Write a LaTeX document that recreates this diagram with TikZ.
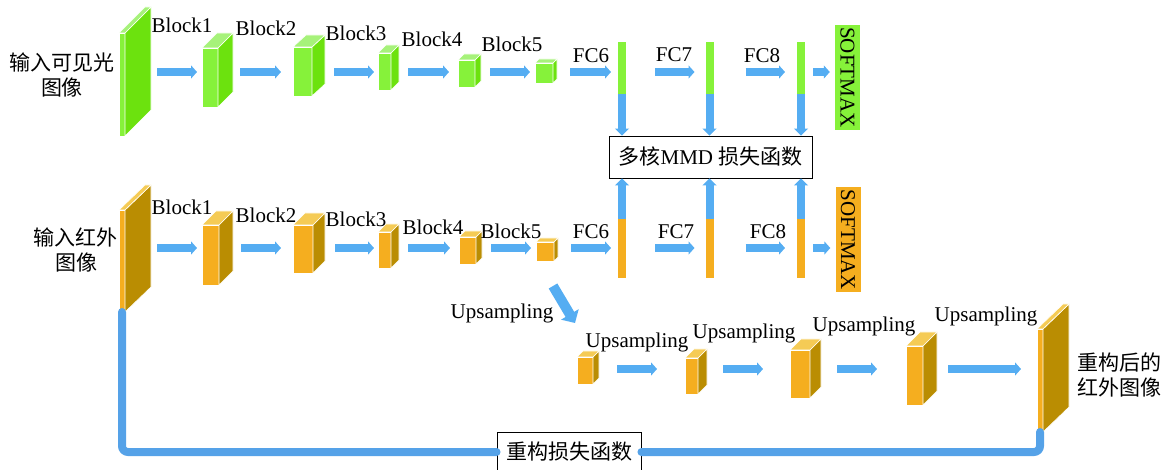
\documentclass[tikz,border=0pt]{standalone}
\usepackage{graphicx}
\usepackage{fontspec}
\setmainfont{Liberation Serif}
\newfontfamily\cjk{Noto Sans CJK SC}
\usetikzlibrary{arrows.meta, calc, positioning}
\definecolor{gfront}{HTML}{86F23A}
\definecolor{gside}{HTML}{6CE20E}
\definecolor{gtop}{HTML}{A6F27A}
\definecolor{ofront}{HTML}{F5AE1F}
\definecolor{oside}{HTML}{BA8D02}
\definecolor{otop}{HTML}{F5CB55}
\definecolor{arrowblue}{HTML}{55ADF2}
\definecolor{lineblue}{HTML}{55A2E8}
% name, colour, x, y, width, height, depth x, depth y
\newcommand{\cuboid}[8]{%
 \node[draw=white, line width=0.6pt, fill=#2front, inner sep=0pt, outer sep=0pt,
  minimum width=#5pt, minimum height=#6pt, anchor=north west] (#1) at (#3,#4) {};
 \draw[white, line width=0.6pt, fill=#2side] (#1.north east) -- ++(#7,-#8) -- ++(0,#6) -- (#1.south east) -- cycle;
 \draw[white, line width=0.6pt, fill=#2top] (#1.north west) -- ++(#7,-#8) -- ++(#5,0) -- (#1.north east) -- cycle;
}

\begin{document}
\begin{tikzpicture}[x=1pt, y=-1pt,
 lbl/.style={font=\fontsize{21}{25}\selectfont, inner sep=0pt},
 cn/.style={font=\cjk\fontsize{21}{25}\selectfont, align=center, inner sep=0pt},
 bar/.style={inner sep=0pt, outer sep=0pt, minimum width=8pt},
 smbox/.style={inner sep=0pt, minimum width=25pt, minimum height=105pt, font=\fontsize{21}{25}\selectfont},
 lossbox/.style={draw, line width=0.9pt, fill=white, inner sep=0pt, font=\fontsize{21}{25}\selectfont},
 flow/.style={draw=arrowblue, line width=8pt, -{Triangle[width=13pt,length=6pt]}},
 vflow/.style={draw=arrowblue, line width=8pt, -{Triangle[width=14pt,length=7pt]}},
 loss/.style={draw=lineblue, line width=8pt, line cap=round, rounded corners=6pt}]
 \useasboundingbox (0,0) rectangle (1168,470);

 \coordinate (vrow) at (0,72);
 \coordinate (irow) at (0,248);
 \coordinate (urow) at (0,369);

 % visible light branch
 \cuboid{v0}{g}{119}{33}{6}{103}{26}{26}
 \cuboid{v1}{g}{202}{48}{16}{59}{15}{15}
 \cuboid{v2}{g}{293}{47}{19}{49}{13}{12}
 \cuboid{v3}{g}{378}{53}{13}{37}{8}{8}
 \cuboid{v4}{g}{458}{60}{17}{27}{6}{6}
 \cuboid{v5}{g}{535}{63}{18}{20}{4}{4}
 \node[bar, fill=gfront, minimum height=52pt, anchor=north] (v6) at (622,42) {};
 \node[bar, fill=gfront, minimum height=52pt, anchor=north] (v7) at (709.5,42) {};
 \node[bar, fill=gfront, minimum height=52pt, anchor=north] (v8) at (801,42) {};
 \node[smbox, fill=gfront] (v9) at (847.5,77.5) {\rotatebox{-90}{SOFTMAX}};

 % infrared branch
 \cuboid{i0}{o}{119}{210}{6}{102}{26}{25}
 \cuboid{i1}{o}{202}{225}{17}{60}{14}{14}
 \cuboid{i2}{o}{293}{225}{20}{48}{12}{12}
 \cuboid{i3}{o}{378}{232}{13}{36}{8}{8}
 \cuboid{i4}{o}{459}{237}{17}{27}{6}{6}
 \cuboid{i5}{o}{536}{242}{18}{19}{4}{4}
 \node[bar, fill=ofront, minimum height=59pt, anchor=south] (i6) at (622,278) {};
 \node[bar, fill=ofront, minimum height=59pt, anchor=south] (i7) at (709.5,278) {};
 \node[bar, fill=ofront, minimum height=59pt, anchor=south] (i8) at (801,278) {};
 \node[smbox, fill=ofront] (i9) at (848,240) {\rotatebox{-90}{SOFTMAX}};

 % reconstruction branch
 \cuboid{u1}{o}{577}{357}{16}{27}{6}{6}
 \cuboid{u2}{o}{685}{358}{13}{36}{9}{9}
 \cuboid{u3}{o}{790}{350}{20}{48}{11}{11}
 \cuboid{u4}{o}{906}{346}{17}{59}{14}{14}
 \cuboid{u5}{o}{1037}{329}{6}{103}{26}{25}

 \node[cn] (vin) at (62,75) {输入可见光\\图像};
 \node[cn] (iin) at (76,250) {输入红外\\图像};
 \node[cn] (uout) at (1119,375) {重构后的\\红外图像};

 \foreach \t/\x/\y [count=\i] in {Block1/182/25, Block2/266/28, Block3/356/33, Block4/432/39,
   Block5/512/44, FC6/591/56, FC7/674/55, FC8/762/56}
  \node[lbl] (vl\i) at (\x,\y) {\t};
 \foreach \t/\x/\y [count=\i] in {Block1/182/207, Block2/266/215, Block3/356/219, Block4/433/227,
   Block5/511/231, FC6/591/232, FC7/676/232, FC8/768/232}
  \node[lbl] (il\i) at (\x,\y) {\t};
 \foreach \x/\y [count=\i] in {637/342, 744/333, 864/326, 986/316}
  \node[lbl] (ul\i) at (\x,\y) {Upsampling};
 \node[lbl] (dl) at (502,313) {Upsampling};

 \node[lossbox, minimum width=203pt, minimum height=42pt] (mmd) at (710.5,157)
  {{\cjk 多核}MMD {\cjk 损失函数}};
 \node[lossbox, minimum width=144pt, minimum height=40pt] (rec) at (569,452)
  {\cjk 重构损失函数};

 % arrows along the rows
 \foreach \a/\b/\s/\e in {0/1/32/5, 1/2/22/12, 2/3/22/4, 3/4/17/9, 4/5/15/5, 5/6/17/7,
   6/7/29/11, 7/8/32/12, 8/9/8/5} {
  \draw[flow] ([xshift=\s]v\a.east |- vrow) -- ([xshift=-\e]v\b.west |- vrow);
  \draw[flow] ([xshift=\s]i\a.east |- irow) -- ([xshift=-\e]i\b.west |- irow);
 }
 \foreach \a/\b/\s/\e in {1/2/24/28, 2/3/25/27, 3/4/27/29, 4/5/25/16}
  \draw[flow] ([xshift=\s]u\a.east |- urow) -- ([xshift=-\e]u\b.west |- urow);

 \foreach \n in {6,7,8} {
  \draw[vflow] (v\n.south) -- (mmd.north -| v\n.south);
  \draw[vflow] (i\n.north) -- (mmd.south -| i\n.north);
 }

 \coordinate (upa) at (553,286);
 \coordinate (upb) at (575,323);
 \draw[draw=arrowblue, line width=10pt, -{Triangle[width=20pt,length=10pt]}] (upa) -- (upb);

 \draw[loss] (i0.south) |- (rec.west);
 \draw[loss] (rec.east) -| (u5.south);
\end{tikzpicture}
\end{document}
